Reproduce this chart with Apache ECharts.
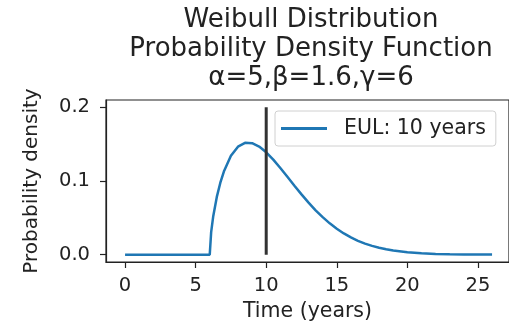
<!DOCTYPE html>
<html>
<head>
<meta charset="utf-8">
<script src="https://cdn.jsdelivr.net/npm/echarts@6/dist/echarts.min.js"></script>
<style>
  html, body { margin: 0; padding: 0; background: #fff; }
  #chart { width: 509px; height: 327px; }
</style>
</head>
<body>
<div id="chart"></div>
<script>
// time axis (years) and density
var timeYears = [0, 6, 6.1, 6.25, 6.5, 6.75, 7, 7.5, 8, 8.5, 9, 9.5, 10, 10.5, 11, 11.5, 12, 12.5, 13, 13.5, 14, 14.5, 15, 15.5, 16, 16.5, 17, 17.5, 18, 18.5, 19, 20, 21, 22, 23, 24, 25, 26]
var density = [0, 0, 0.0305, 0.0526, 0.0784, 0.0977, 0.1129, 0.1343, 0.1466, 0.1518, 0.1514, 0.1468, 0.1390, 0.1290, 0.1177, 0.1057, 0.0936, 0.0818, 0.0706, 0.0602, 0.0509, 0.0425, 0.0352, 0.0288, 0.0234, 0.0188, 0.0150, 0.0119, 0.0094, 0.0073, 0.0056, 0.0033, 0.0019, 0.0010, 0.0006, 0.0003, 0.00015, 0.00007]
// EUL marker
var eulX = [10, 10]
var eulY = [0, 0.2]
var xTicks = [0, 5, 10, 15, 20, 25]
var yTicks = [0, 0.1, 0.2]
var seriesName = 'EUL: 10 years'
var titleLines = ['Weibull Distribution', 'Probability Density Function', 'α=5,β=1.6,γ=6']

var font = '"DejaVu Sans", sans-serif'
var chart = echarts.init(document.getElementById('chart'), null, { renderer: 'canvas' })

var curveData = timeYears.map(function (t, i) { return [t, density[i]] })
var eulData = eulX.map(function (x, i) { return [x, eulY[i]] })

var option = {
  animation: false,
  title: {
    text: titleLines.join('\n'),
    left: 306,
    top: 1,
    textAlign: 'center',
    textStyle: {
      fontFamily: font,
      fontSize: 26,
      fontWeight: 'normal',
      color: '#222',
      lineHeight: 29
    }
  },
  legend: {
    data: [{ name: seriesName, icon: 'rect' }],
    left: 275,
    top: 111,
    orient: 'vertical',
    itemWidth: 46,
    itemHeight: 3,
    padding: [7, 10, 7, 6],
    borderColor: '#d0d0d0',
    borderWidth: 1,
    borderRadius: 3,
    backgroundColor: '#fff',
    textStyle: {
      fontFamily: font,
      fontSize: 20.5,
      color: '#222',
      padding: [0, 0, 0, 12]
    }
  },
  grid: {
    left: 106,
    right: -3,
    top: 100,
    bottom: 62,
    show: true,
    borderColor: '#222',
    borderWidth: 1.2,
    backgroundColor: 'transparent'
  },
  xAxis: {
    type: 'value',
    min: -1.35,
    max: 27.2,
    name: 'Time (years)',
    nameLocation: 'middle',
    nameGap: 39,
    nameTextStyle: { fontFamily: font, fontSize: 20.5, color: '#222' },
    axisLine: { show: true, onZero: false, lineStyle: { color: '#222', width: 1.2 } },
    axisTick: { show: true, customValues: xTicks, length: 6, lineStyle: { color: '#222', width: 1.2 } },
    axisLabel: {
      customValues: xTicks,
      margin: 14,
      fontFamily: font,
      fontSize: 19.5,
      color: '#222'
    },
    splitLine: { show: false }
  },
  yAxis: {
    type: 'value',
    min: -0.01,
    max: 0.21,
    name: 'Probability density',
    nameLocation: 'middle',
    nameGap: 64,
    nameTextStyle: { fontFamily: font, fontSize: 20, color: '#222' },
    axisLine: { show: true, onZero: false, lineStyle: { color: '#222', width: 1.2 } },
    axisTick: { show: true, customValues: yTicks, length: 6, lineStyle: { color: '#222', width: 1.2 } },
    axisLabel: {
      customValues: yTicks,
      margin: 16,
      fontFamily: font,
      fontSize: 19.5,
      color: '#222',
      formatter: function (v) { return v.toFixed(1) }
    },
    splitLine: { show: false }
  },
  series: [
    {
      name: seriesName,
      type: 'line',
      data: curveData,
      showSymbol: false,
      symbol: 'none',
      smooth: false,
      lineStyle: { color: '#1f77b4', width: 2.5 },
      itemStyle: { color: '#1f77b4' },
      z: 3
    },
    {
      name: 'eul',
      type: 'line',
      data: eulData,
      showSymbol: false,
      symbol: 'none',
      lineStyle: { color: '#333', width: 3 },
      z: 4
    }
  ]
}
chart.setOption(option)
</script>
</body>
</html>
